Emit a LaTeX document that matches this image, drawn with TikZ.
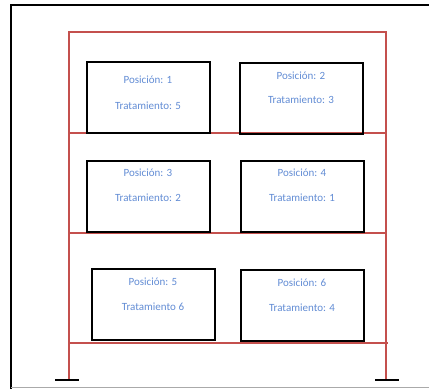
\documentclass[tikz,border=0pt]{standalone}
\usepackage{fontspec}
\setmainfont{Carlito}
\definecolor{framered}{RGB}{196,80,77}
\definecolor{txtblue}{RGB}{98,140,212}
\definecolor{basegray}{RGB}{170,170,170}
\begin{document}
\begin{tikzpicture}[x=1pt,y=-1pt,
  framebeam/.style={draw=framered,line width=1.8pt},
  potbox/.style={draw=black,line width=1.6pt,rectangle,minimum width=123pt,minimum height=71pt,inner sep=0pt},
  lbl/.style={text=txtblue,font=\fontsize{11}{13}\selectfont,inner sep=0pt},
  groundcap/.style={draw=black,line width=1.6pt}]
\useasboundingbox (0,0) rectangle (429,389);
% outer frame
\coordinate (fTL) at (11,5);
\coordinate (fTR) at (429,5);
\coordinate (fBL) at (11,389);
\coordinate (gBL) at (11,387.5);
\coordinate (gBR) at (429,387.5);
\draw[line width=1.6pt] (fBL) -- (fTL) -- (fTR);
\draw[basegray,line width=1pt] (gBL) -- (gBR);
% structure
\coordinate (cLt) at (69,32);
\coordinate (cRt) at (386,32);
\coordinate (cLb) at (69,380);
\coordinate (cRb) at (386,380);
\coordinate (f1L) at (68,133);
\coordinate (f1R) at (386,133);
\coordinate (f2L) at (68,233);
\coordinate (f2R) at (386,233);
\coordinate (f3L) at (68,343);
\coordinate (f3R) at (388,343);
\draw[framebeam] (cLb) -- (cLt) -- (cRt) -- (cRb);
\draw[framebeam] (f1L) -- (f1R);
\draw[framebeam] (f2L) -- (f2R);
\draw[framebeam] (f3L) -- (f3R);
% ground caps
\coordinate (gL1) at (55,380);
\coordinate (gL2) at (79,380);
\coordinate (gR1) at (375,380);
\coordinate (gR2) at (399,380);
\draw[groundcap] (gL1) -- (gL2);
\draw[groundcap] (gR1) -- (gR2);
% boxes
\node[potbox] (b1) at (148.5,97.5) {};
\node[potbox] (b2) at (301.5,98.5) {};
\node[potbox] (b3) at (148.5,196.5) {};
\node[potbox] (b4) at (302.5,196.5) {};
\node[potbox] (b5) at (153.5,304.5) {};
\node[potbox] (b6) at (302.5,305.5) {};
% labels
\node[lbl] (p1) at (148,80) {Posición: 1};
\node[lbl] (t1) at (148,106) {Tratamiento: 5};
\node[lbl] (p2) at (301,76) {Posición: 2};
\node[lbl] (t2) at (301,100) {Tratamiento: 3};
\node[lbl] (p3) at (148,173) {Posición: 3};
\node[lbl] (t3) at (148,198) {Tratamiento: 2};
\node[lbl] (p4) at (302,173) {Posición: 4};
\node[lbl] (t4) at (302,198) {Tratamiento: 1};
\node[lbl] (p5) at (153,282) {Posición: 5};
\node[lbl] (t5) at (153,307) {Tratamiento 6};
\node[lbl] (p6) at (302,283) {Posición: 6};
\node[lbl] (t6) at (302,308) {Tratamiento: 4};
\end{tikzpicture}
\end{document}
